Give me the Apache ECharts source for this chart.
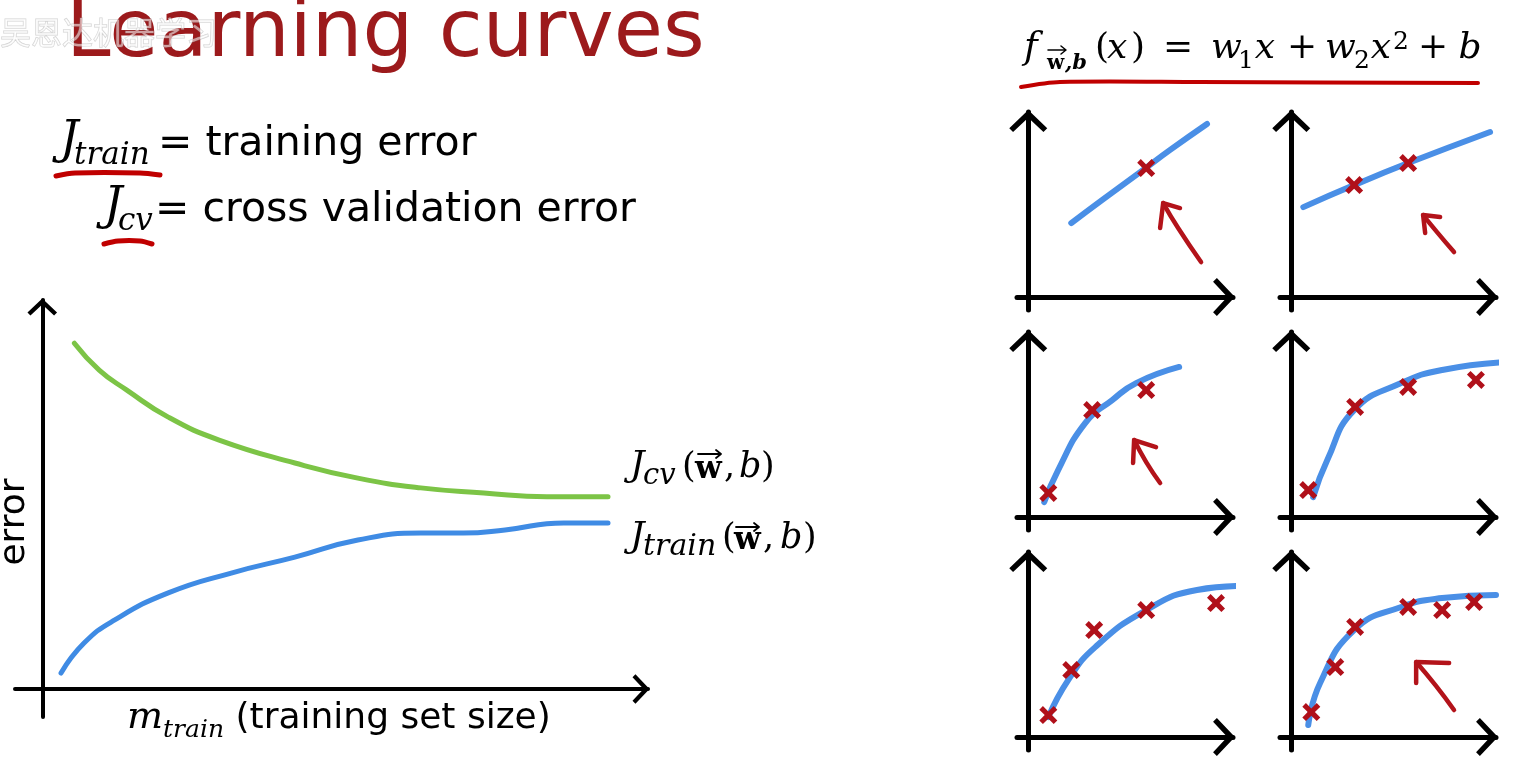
<!DOCTYPE html>
<html><head><meta charset="utf-8">
<script src="https://cdn.jsdelivr.net/npm/echarts@6/dist/echarts.min.js"></script>
<style>html,body{margin:0;padding:0;background:#fff}#c{width:1534px;height:762px}</style>
</head><body><div id="c"></div>
<script>
// ---- main learning-curve data (x: training set size, y: error) ----
const cvCurve = [[5.3,88.9],[9.4,82.0],[13.9,76.9],[20.8,69.9],[29.2,64.0],[41.7,58.1],[52.1,54.2],[62.5,51.7],[72.9,50.4],[83.3,49.4],[93.4,49.4]];
const trainCurve = [[3.1,4.1],[6.9,11.8],[11.9,17.7],[20.8,24.7],[31.2,29.8],[41.7,33.9],[52.1,38.3],[62.5,40.1],[69.5,40.1],[76.4,40.9],[86.1,42.7],[93.4,42.7]];

// ---- small panels: fitted curves ----
const fit1 = [[2.1,4.0],[3.6,5.24],[5.6,6.86],[6.93,7.95],[8.73,9.35]];
const fit2 = [[0.59,4.86],[3.07,6.05],[5.71,7.24],[9.71,8.92]];
const fit3 = [[0.78,0.81],[1.46,2.54],[2.78,5.08],[4.1,6.32],[5.27,7.24],[7.37,8.11]];
const fit4 = [[1.07,1.08],[1.76,3.08],[3.07,5.78],[5.37,7.24],[7.37,7.95],[10.54,8.38]];
const fit5 = [[0.98,1.08],[1.95,3.08],[3.27,4.86],[5.76,6.86],[8.24,7.95],[10.39,8.16]];
const fit6 = [[0.83,0.65],[1.41,2.92],[3.07,5.78],[5.37,7.03],[7.37,7.51],[10.0,7.68]];
// ---- small panels: training examples ----
const pts1 = [[5.76,6.97]];
const pts2 = [[3.07,6.05],[5.71,7.24]];
const pts3 = [[0.98,1.3],[3.12,5.78],[5.76,6.86]];
const pts4 = [[0.83,1.46],[3.12,5.95],[5.71,7.03],[9.02,7.41]];
const pts5 = [[0.98,1.19],[2.1,3.62],[3.22,5.78],[5.76,6.86],[9.17,7.24]];
const pts6 = [[0.98,1.35],[2.15,3.78],[3.12,5.95],[5.71,7.03],[7.37,6.86],[8.93,7.3]];
// ---- hand-drawn red arrows (shaft, head) ----
const shaft1 = [[8.44,1.89],[7.32,3.73],[6.59,5.08]];
const head1 = [[6.44,3.73],[6.59,5.08],[7.41,4.81]];
const shaft2 = [[7.95,2.43],[7.12,3.51],[6.44,4.43]];
const head2 = [[6.54,3.46],[6.44,4.43],[7.27,4.32]];
const shaft3 = [[6.44,1.84],[5.76,2.97],[5.17,4.16]];
const head3 = [[5.12,2.92],[5.17,4.16],[6.24,3.78]];
const shaft6 = [[7.95,1.46],[7.07,2.76],[6.1,4.05]];
const head6 = [[6.1,2.92],[6.1,4.05],[7.71,4.0]];

const CHEV = 'path://M0,19 L20,0 L40,19 L36,23 L20,8 L4,23 Z';
const CROSS = 'path://M0,2.8 L2.8,0 L7,4.2 L11.2,0 L14,2.8 L9.8,7 L14,11.2 L11.2,14 L7,9.8 L2.8,14 L0,11.2 L4.2,7 Z';

const grids = [], xAxes = [], yAxes = [], series = [];
function addGrid(rect, xr, yr, lw, symSize, off) {
  const i = grids.length;
  grids.push(Object.assign({containLabel:false}, rect));
  const axisLine = {show:true, onZero:true, symbol:['none', CHEV], symbolSize:symSize, symbolOffset:[0, off],
    lineStyle:{color:'#000', width:lw, cap:'round'}};
  xAxes.push({gridIndex:i, type:'value', min:xr[0], max:xr[1], axisLine:axisLine,
    axisTick:{show:false}, axisLabel:{show:false}, splitLine:{show:false}});
  yAxes.push({gridIndex:i, type:'value', min:yr[0], max:yr[1], axisLine:axisLine,
    axisTick:{show:false}, axisLabel:{show:false}, splitLine:{show:false}});
  return i;
}
function line(i, data, color, width) {
  series.push({type:'line', xAxisIndex:i, yAxisIndex:i, data:data, smooth:true, symbol:'none', clip:false,
    silent:true, z:3, lineStyle:{color:color, width:width, cap:'round', join:'round'}});
}
function crosses(i, data) {
  series.push({type:'scatter', xAxisIndex:i, yAxisIndex:i, data:data, symbol:CROSS, symbolSize:18, clip:false,
    silent:true, z:4, itemStyle:{color:'#b0101a', opacity:1}});
}
function arrow(i, shaft, head) {
  series.push({type:'line', xAxisIndex:i, yAxisIndex:i, data:shaft, smooth:true, symbol:'none', clip:false, silent:true, z:3,
    lineStyle:{color:'#b3131a', width:4.5, cap:'round', join:'round'}});
  series.push({type:'line', xAxisIndex:i, yAxisIndex:i, data:head, smooth:false, symbol:'none', clip:false, silent:true, z:3,
    lineStyle:{color:'#b3131a', width:4.5, cap:'round', join:'round'}});
}

// main chart
const m = addGrid({left:15, top:300, width:633, height:417}, [-4.5,100], [-7.2,100], 4, [30,17], -7);
line(m, cvCurve, '#7cc446', 5);
line(m, trainCurve, '#3f8be4', 5);

// panels
const colLeft = [1017, 1280], rowTop = [112, 332, 552];
const fits = [fit1, fit2, fit3, fit4, fit5, fit6];
const pts = [pts1, pts2, pts3, pts4, pts5, pts6];
for (let k = 0; k < 6; k++) {
  const g = addGrid({left:colLeft[k % 2], top:rowTop[Math.floor(k / 2)], width:216, height:198}, [-0.55,10], [-0.7,10], 5, [38,22], -9);
  line(g, fits[k], '#4a8fe6', 6);
  crosses(g, pts[k]);
  if (k === 0) arrow(g, shaft1, head1);
  if (k === 1) arrow(g, shaft2, head2);
  if (k === 2) arrow(g, shaft3, head3);
  if (k === 5) arrow(g, shaft6, head6);
}

const SERIF = '"DejaVu Serif"';
const SANS = '"DejaVu Sans"';
function tok(font, w, extra) {
  const o = {font:font, fill:'#000', verticalAlign:'bottom', align:'left'};
  if (w) o.width = w;
  return Object.assign(o, extra || {});
}
const PB = {padding:[0,0,6,0]};
const PB7 = {padding:[0,0,7,0]};
function vecArrow(x1, x2, y, lw) {
  return {type:'polyline', z:12, shape:{points:[[x1,y],[x2,y],[x2-5,y-4],[x2,y],[x2-5,y+4]]},
    style:{stroke:'#000', lineWidth:lw, fill:null, lineCap:'round', lineJoin:'round'}};
}

const graphic = [
  {type:'text', x:66, y:35, z:10, style:{text:'Learning curves', font:'80px ' + SANS, fill:'#9c1a1c', verticalAlign:'middle', textVerticalAlign:'middle'}},
  {type:'text', x:0, y:32, z:11, style:{text:'吴恩达机器学习', font:'31px "Noto Sans CJK SC"', fill:'rgba(255,255,255,0.55)', stroke:'rgba(140,140,140,0.4)', lineWidth:1, verticalAlign:'middle', textVerticalAlign:'middle'}},
  {type:'text', x:60, y:145, z:10, style:{text:'{J|J}{s|train}{e|= training error}', verticalAlign:'middle', textVerticalAlign:'middle',
    rich:{J:tok('italic 46px ' + SERIF, 14, PB7), s:tok('italic 31px ' + SERIF, 84), e:tok('41px ' + SANS, 0, PB7)}}},
  {type:'text', x:104, y:211, z:10, style:{text:'{J|J}{s|cv}{e|= cross validation error}', verticalAlign:'middle', textVerticalAlign:'middle',
    rich:{J:tok('italic 46px ' + SERIF, 14, PB7), s:tok('italic 31px ' + SERIF, 37), e:tok('41px ' + SANS, 0, PB7)}}},
  {type:'text', x:15, y:522, rotation:Math.PI / 2, z:10, style:{text:'error', font:'36px ' + SANS, fill:'#000', align:'center', textAlign:'center', verticalAlign:'middle', textVerticalAlign:'middle'}},
  {type:'text', x:127, y:721, z:10, style:{text:'{m|m}{s|train}{e| (training set size)}', verticalAlign:'middle', textVerticalAlign:'middle',
    rich:{m:tok('italic 38px ' + SERIF, 0, PB), s:tok('italic 25px ' + SERIF), e:tok('36px ' + SANS, 0, PB)}}},
  // J_cv(w, b)
  {type:'text', x:630, y:470, z:10, style:{text:'{J|J}{s|cv}{p|(}{w|w}{p2|,}{b|b}{p|)}', verticalAlign:'middle', textVerticalAlign:'middle',
    rich:{J:tok('italic 36px ' + SERIF, 13, PB), s:tok('italic 29px ' + SERIF, 39), p:tok('35px ' + SERIF, 13, PB),
      w:tok('bold 31px ' + SERIF, 29, PB), p2:tok('35px ' + SERIF, 15, PB), b:tok('italic 35px ' + SERIF, 22, PB)}}},
  vecArrow(698, 721, 454, 1.8),
  // J_train(w, b)
  {type:'text', x:630, y:541, z:10, style:{text:'{J|J}{s|train}{p|(}{w|w}{p2|,}{b|b}{p|)}', verticalAlign:'middle', textVerticalAlign:'middle',
    rich:{J:tok('italic 36px ' + SERIF, 13, PB), s:tok('italic 30px ' + SERIF, 79), p:tok('35px ' + SERIF, 12, PB),
      w:tok('bold 31px ' + SERIF, 29, PB), p2:tok('35px ' + SERIF, 17, PB), b:tok('italic 35px ' + SERIF, 23, PB)}}},
  vecArrow(736, 759, 527, 1.8),
  // formula f_{w,b}(x) = w1 x + w2 x^2 + b
  {type:'text', x:1024, y:52, z:10, style:{text:'{f|f}{sw|w}{s|,b}{p|(}{x|x}{p|)}{eq|=}{w|w}{d|1}{x2|x}{pl|+}{w2|w}{d2|2}{x|x}{u|2}{pl|+}{b|b}',
    verticalAlign:'middle', textVerticalAlign:'middle',
    rich:{f:tok('italic 37px ' + SERIF, 23, PB7), sw:tok('bold 20px ' + SERIF, 18), s:tok('italic bold 21px ' + SERIF, 30),
      p:tok('36px ' + SERIF, 12, PB7), x:tok('italic 36px ' + SERIF, 24, PB7), x2:tok('italic 36px ' + SERIF, 26, PB7),
      eq:tok('36px ' + SERIF, 70, Object.assign({align:'center'}, PB7)),
      pl:tok('36px ' + SERIF, 48, Object.assign({align:'center'}, PB7)),
      w:tok('italic 36px ' + SERIF, 27, PB7), w2:tok('italic 36px ' + SERIF, 29, PB7), b:tok('italic 36px ' + SERIF, 26, PB7),
      d:tok('25px ' + SERIF, 12), d2:tok('25px ' + SERIF, 14), u:tok('25px ' + SERIF, 16, {verticalAlign:'top'})}}},
  vecArrow(1048, 1066, 50, 1.5),
  {type:'polyline', z:10, shape:{points:[[1021,87],[1060,82],[1200,82],[1478,83]], smooth:0.3}, style:{stroke:'#c00000', lineWidth:4, fill:null, lineCap:'round'}},
  {type:'polyline', z:10, shape:{points:[[56,176],[75,173],[140,173],[160,175]], smooth:0.3}, style:{stroke:'#c00000', lineWidth:5, fill:null, lineCap:'round'}},
  {type:'polyline', z:10, shape:{points:[[104,244],[118,241],[140,241],[152,244]], smooth:0.3}, style:{stroke:'#c00000', lineWidth:5, fill:null, lineCap:'round'}}
];

const chart = echarts.init(document.getElementById('c'), null, {renderer:'canvas'});
chart.setOption({
  backgroundColor:'#ffffff',
  animation:false,
  grid:grids, xAxis:xAxes, yAxis:yAxes, series:series, graphic:graphic
});
</script></body></html>
